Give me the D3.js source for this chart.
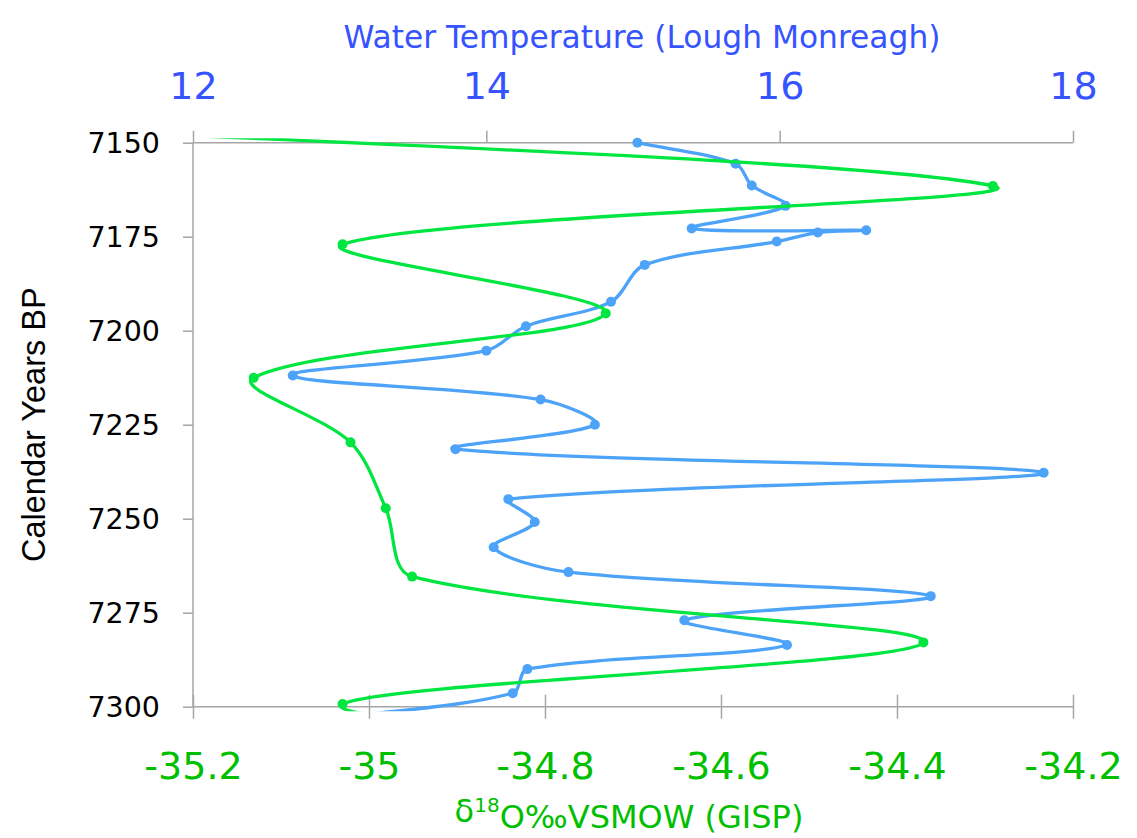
<!DOCTYPE html>
<html>
<head>
<meta charset="utf-8">
<script src="https://cdn.jsdelivr.net/npm/d3@7"></script>
<style>
  html, body { margin: 0; padding: 0; background: #fff; }
  svg { display: block; }
</style>
</head>
<body>
<svg id="chart" width="1137" height="838"></svg>
<script>
// ---- Data ----
// Water temperature (Lough Monreagh), top axis
const tempYears  = [7150, 7155.6, 7161.4, 7166.8, 7172.8, 7173.3, 7173.9, 7176.3, 7182.5, 7192.3,
                    7198.8, 7205.3, 7211.9, 7218.3, 7225.0, 7231.5, 7237.8, 7244.8, 7250.9, 7257.6,
                    7264.2, 7270.6, 7277.0, 7283.6, 7290.0, 7296.4, 7303.0];
const tempValues = [15.03, 15.70, 15.81, 16.04, 15.40, 16.59, 16.26, 15.98, 15.08, 14.85,
                    14.27, 14.00, 12.68, 14.37, 14.74, 13.79, 17.80, 14.15, 14.33, 14.05,
                    14.56, 17.03, 15.35, 16.05, 14.28, 14.18, 13.00];
// δ18O (GISP), bottom axis
const d18oYears  = [7142.5, 7161.5, 7177.0, 7195.4, 7212.5, 7229.7, 7247.2, 7265.4, 7282.9, 7299.3, 7312.0];
const d18oValues = [-35.70, -34.291, -35.030, -34.731, -35.131, -35.021, -34.981, -34.951, -34.370, -35.030, -34.60];

const yTicks    = [7150, 7175, 7200, 7225, 7250, 7275, 7300];
const tempTicks = [12, 14, 16, 18];
const d18oTicks = [-35.2, -35, -34.8, -34.6, -34.4, -34.2];

// ---- Layout ----
const L = 193, R = 1073, T = 142.7, B = 706.7;
const svg = d3.select("#chart");

const y  = d3.scaleLinear().domain([7150, 7300]).range([T, B]);
const xT = d3.scaleLinear().domain([12, 18]).range([L, R]);
const xG = d3.scaleLinear().domain([-35.2, -34.2]).range([L, R]);

const axisColor = "#a6a6a6";
const blueLine = "#4da3f7", greenLine = "#00e640";
const blueText = "#3553ff", greenText = "#00bf00";
const font = "'DejaVu Sans', Verdana, sans-serif";

// Spreadsheet-style smoothed line: cubic Béziers whose tangents are (P[i+1]-P[i-1])/6,
// scaled on each side by the relative length of the adjacent segment.
function SmoothCurve(context) { this._context = context; }
SmoothCurve.prototype = {
  areaStart() {}, areaEnd() {},
  lineStart() { this._pts = []; },
  point(x, y) { this._pts.push([+x, +y]); },
  lineEnd() {
    const p = this._pts, n = p.length, c = this._context;
    if (!n) return;
    c.moveTo(p[0][0], p[0][1]);
    if (n === 1) return;
    const dist = (a, b) => Math.hypot(a[0] - b[0], a[1] - b[1]);
    const tan = p.map((pt, i) => {
      const a = p[Math.max(0, i - 1)], b = p[Math.min(n - 1, i + 1)];
      const d1 = dist(a, pt), d2 = dist(pt, b), s = d1 + d2 || 1;
      const tx = (b[0] - a[0]) / 6, ty = (b[1] - a[1]) / 6;
      return { bx: tx * 2 * d1 / s, by: ty * 2 * d1 / s, ax: tx * 2 * d2 / s, ay: ty * 2 * d2 / s };
    });
    for (let i = 0; i < n - 1; i++) {
      const a = p[i], b = p[i + 1];
      c.bezierCurveTo(a[0] + tan[i].ax, a[1] + tan[i].ay,
                      b[0] - tan[i + 1].bx, b[1] - tan[i + 1].by, b[0], b[1]);
    }
  }
};
const smoothCurve = ctx => new SmoothCurve(ctx);

svg.append("defs").append("clipPath").attr("id", "plotclip")
  .append("rect").attr("x", L - 4).attr("y", T - 4.5).attr("width", R - L + 8).attr("height", B - T + 9);

// Left axis
const gL = svg.append("g").attr("transform", `translate(${L},0)`)
  .call(d3.axisLeft(y).tickValues(yTicks).tickSize(10).tickFormat(d3.format("d")));
gL.select(".domain").attr("stroke", axisColor).attr("stroke-width", 1.5).attr("d", `M0,${T}V${B}`);
gL.selectAll(".tick line").attr("stroke", axisColor).attr("stroke-width", 1.5);
gL.selectAll(".tick text")
  .attr("x", -33).attr("dy", "0.36em")
  .attr("fill", "#000").style("font-family", font).style("font-size", "28.5px");

// Top axis (water temperature)
const gT = svg.append("g").attr("transform", `translate(0,${T})`)
  .call(d3.axisTop(xT).tickValues(tempTicks).tickSize(12).tickFormat(d3.format("d")));
gT.select(".domain").attr("stroke", axisColor).attr("stroke-width", 1.5).attr("d", `M${L},0H${R}`);
gT.selectAll(".tick line").attr("stroke", axisColor).attr("stroke-width", 1.5);
gT.selectAll(".tick text")
  .attr("y", 99.3 - T).attr("dy", "0")
  .attr("fill", blueText).style("font-family", font).style("font-size", "38px");

// Bottom axis (δ18O)
const gB = svg.append("g").attr("transform", `translate(0,${B})`)
  .call(d3.axisBottom(xG).tickValues(d18oTicks).tickSize(12).tickFormat(d => String(d)));
gB.select(".domain").attr("stroke", axisColor).attr("stroke-width", 1.5).attr("d", `M${L},0H${R}`);
gB.selectAll(".tick line").attr("stroke", axisColor).attr("stroke-width", 1.5).attr("y1", -12).attr("y2", 12);
gB.selectAll(".tick text")
  .attr("y", 779 - B).attr("dy", "0")
  .attr("fill", greenText).style("font-family", font).style("font-size", "38px");
[gL, gT, gB].forEach(g => g.attr("font-family", null).attr("font-size", null));

// Axis titles
svg.append("text")
  .attr("x", 642).attr("y", 48.3).attr("text-anchor", "middle")
  .attr("fill", blueText).style("font-family", font).style("font-size", "31.3px")
  .text("Water Temperature (Lough Monreagh)");

const bt = svg.append("text")
  .attr("x", 629).attr("y", 822).attr("text-anchor", "middle")
  .attr("fill", greenText).style("font-family", font).style("font-size", "32px");
bt.append("tspan").text("δ");
bt.append("tspan").attr("dy", "-0.5em").style("font-size", "20px").text("18");
bt.append("tspan").attr("dy", "0.5em").text("O‰VSMOW (GISP)");

svg.append("text")
  .attr("transform", `translate(45,${(T + B) / 2}) rotate(-90)`)
  .attr("text-anchor", "middle").attr("fill", "#000")
  .style("font-family", "'Liberation Sans', Arial, sans-serif").style("font-size", "32.5px")
  .text("Calendar Years BP");

// ---- Series ----
const tempData = tempYears.map((yr, i) => ({ yr, v: tempValues[i] }));
const d18oData = d18oYears.map((yr, i) => ({ yr, v: d18oValues[i] }));

const lineT = d3.line().x(d => xT(d.v)).y(d => y(d.yr)).curve(smoothCurve);
const lineG = d3.line().x(d => xG(d.v)).y(d => y(d.yr)).curve(smoothCurve);

const plot = svg.append("g").attr("clip-path", "url(#plotclip)");
plot.append("path").datum(tempData).attr("d", lineT)
  .attr("fill", "none").attr("stroke", blueLine).attr("stroke-width", 3.3).attr("stroke-linejoin", "round");
svg.append("g").selectAll("circle").data(tempData.filter(d => d.yr >= 7150 && d.yr <= 7300)).join("circle")
  .attr("cx", d => xT(d.v)).attr("cy", d => y(d.yr)).attr("r", 5).attr("fill", blueLine);

const plot2 = svg.append("g").attr("clip-path", "url(#plotclip)");
plot2.append("path").datum(d18oData).attr("d", lineG)
  .attr("fill", "none").attr("stroke", greenLine).attr("stroke-width", 3.3).attr("stroke-linejoin", "round");
svg.append("g").selectAll("circle").data(d18oData.filter(d => d.yr >= 7150 && d.yr <= 7300)).join("circle")
  .attr("cx", d => xG(d.v)).attr("cy", d => y(d.yr)).attr("r", 5).attr("fill", greenLine);
</script>
</body>
</html>
